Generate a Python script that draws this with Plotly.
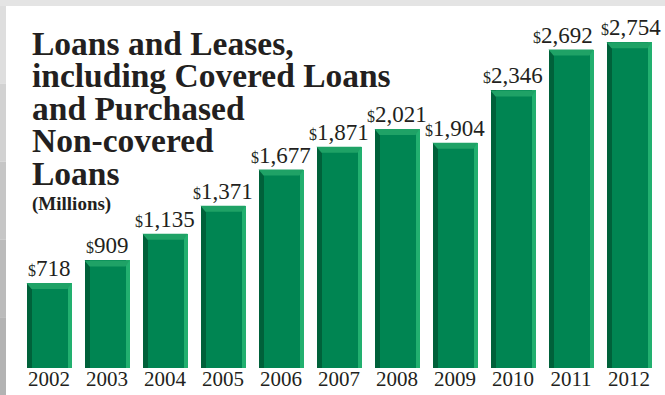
import plotly.graph_objects as go

# Year-end balances, $ millions
years = ["2002", "2003", "2004", "2005", "2006", "2007", "2008", "2009", "2010", "2011", "2012"]
values = [718, 909, 1135, 1371, 1677, 1871, 2021, 1904, 2346, 2692, 2754]
value_labels = ["718", "909", "1,135", "1,371", "1,677", "1,871", "2,021", "1,904", "2,346", "2,692", "2,754"]
title_lines = ["Loans and Leases,", "including Covered Loans", "and Purchased", "Non-covered", "Loans"]
subtitle = "(Millions)"

W, H = 665, 395
M_L, M_R, M_T, M_B = 20, 7, 10, 27
plot_w = W - M_L - M_R
plot_h = H - M_T - M_B
Y_MAX = 3026

n = len(years)
px_per_x = plot_w / n               # pixels per category
px_per_y = plot_h / Y_MAX           # pixels per $ million

BAR_PX = 45
LEFT_PX, RIGHT_PX, TOP_PX = 5, 4, 6
bar_w = BAR_PX / px_per_x
left_w = LEFT_PX / px_per_x
right_w = RIGHT_PX / px_per_x
top_h = TOP_PX / px_per_y

C_MAIN = "#008552"
C_DARK = "#00613a"
C_LIGHT = "#22b06f"
C_TOP = "#1fa266"
TXT = "#231f20"
SERIF = "Liberation Serif, Times New Roman, serif"

xs = list(range(n))
fig = go.Figure()

# base slab (its right edge shows as the light side facet)
fig.add_trace(go.Bar(x=xs, y=values, width=[bar_w] * n, marker=dict(color=C_LIGHT, line=dict(width=0)),
                     hoverinfo="skip"))
# dark left facet
fig.add_trace(go.Bar(x=[i - bar_w / 2 + left_w / 2 for i in xs], y=values, width=[left_w] * n,
                     marker=dict(color=C_DARK, line=dict(width=0)), hoverinfo="skip"))
# front face
fig.add_trace(go.Bar(x=[i + (left_w - right_w) / 2 for i in xs], y=values,
                     width=[bar_w - left_w - right_w] * n,
                     marker=dict(color=C_MAIN, line=dict(width=0)), hoverinfo="skip"))

shapes = []
# bevelled top face of each bar
for i, v in zip(xs, values):
    l, r = i - bar_w / 2, i + bar_w / 2
    path = f"M{l},{v} L{r},{v} L{r - right_w},{v - top_h} L{l + left_w},{v - top_h} Z"
    shapes.append(dict(type="path", path=path, xref="x", yref="y", fillcolor=C_TOP,
                       line=dict(width=0), layer="above"))


def px_x(p):
    return (p - M_L) / plot_w


def px_y(p):
    return (H - M_B - p) / plot_h


# grey frame along top and left edges
shapes.append(dict(type="rect", xref="paper", yref="paper", x0=px_x(0), x1=px_x(W), y0=px_y(6), y1=px_y(0),
                   fillcolor="#e4e4e4", line=dict(width=0), layer="below"))
left_band = ["#dedede", "#d2d2d2", "#c6c6c6", "#bbbbbb", "#b3b3b3"]
for k, c in enumerate(left_band):
    shapes.append(dict(type="rect", xref="paper", yref="paper", x0=px_x(0), x1=px_x(6),
                       y0=px_y(6 + (k + 1) * (H - 6) / len(left_band)), y1=px_y(6 + k * (H - 6) / len(left_band)),
                       fillcolor=c, line=dict(width=0), layer="below"))

# nudge the crowded labels at the right end apart
label_nudge = {9: -8, 10: 2}

annotations = []
# value labels above each bar, with a reduced dollar sign
for i, v, lab in zip(xs, values, value_labels):
    annotations.append(dict(x=i, y=v, xref="x", yref="y",
                            text=f"<span style='font-size:16px'>$</span>{lab}", showarrow=False,
                            yanchor="bottom", yshift=1, xshift=label_nudge.get(i, 0), borderpad=0,
                            font=dict(family=SERIF, size=23, color=TXT)))

# chart title, one line at a time
for k, line in enumerate(title_lines):
    annotations.append(dict(x=px_x(31), y=px_y(43 + k * 32.5), xref="paper", yref="paper", text=f"<b>{line}</b>",
                            showarrow=False, xanchor="left", yanchor="middle", borderpad=0,
                            font=dict(family=SERIF, size=33.5, color=TXT)))
annotations.append(dict(x=px_x(31), y=px_y(204), xref="paper", yref="paper", text=f"<b>{subtitle}</b>",
                        showarrow=False, xanchor="left", yanchor="middle", borderpad=0,
                        font=dict(family=SERIF, size=19, color=TXT)))

fig.update_layout(
    width=W, height=H,
    margin=dict(l=M_L, r=M_R, t=M_T, b=M_B, pad=0, autoexpand=False),
    paper_bgcolor="white", plot_bgcolor="rgba(0,0,0,0)",
    barmode="overlay", bargap=0, showlegend=False,
    shapes=shapes, annotations=annotations,
    xaxis=dict(range=[-0.5, n - 0.5], tickvals=xs, ticktext=years, showgrid=False, zeroline=False,
               showline=False, ticks="", ticklabelstandoff=-4, automargin=False,
               tickfont=dict(family=SERIF, size=21, color=TXT), fixedrange=True),
    yaxis=dict(range=[0, Y_MAX], visible=False, showgrid=False, zeroline=False, fixedrange=True,
               automargin=False),
)

fig.write_html("out.html", config={"displayModeBar": False})
